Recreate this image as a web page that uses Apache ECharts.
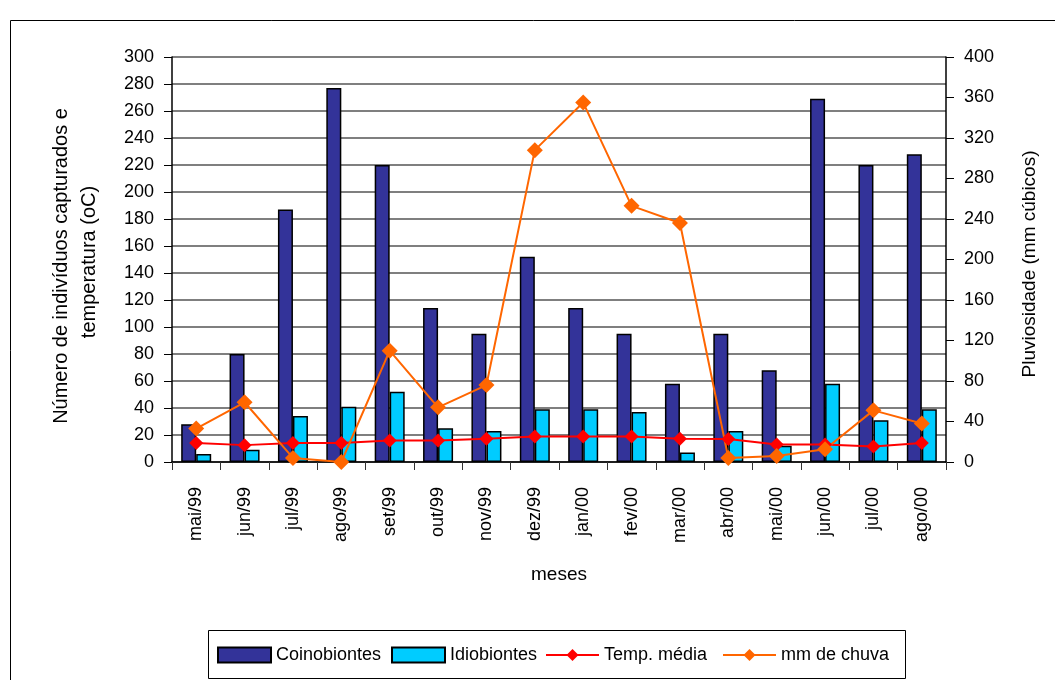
<!DOCTYPE html>
<html>
<head>
<meta charset="utf-8">
<script src="https://cdn.jsdelivr.net/npm/echarts@6/dist/echarts.min.js"></script>
<style>html,body{margin:0;padding:0;background:#fff}#c{width:1055px;height:680px}</style>
</head>
<body>
<div id="c"></div>
<script>
const months = ['mai/99','jun/99','jul/99','ago/99','set/99','out/99','nov/99','dez/99','jan/00','fev/00','mar/00','abr/00','mai/00','jun/00','jul/00','ago/00'];
const coinobiontes = [28, 80, 187, 277, 220, 114, 95, 152, 114, 95, 58, 95, 68, 269, 220, 228];
const idiobiontes = [6, 9, 34, 41, 52, 25, 23, 39, 39, 37, 7, 23, 12, 58, 31, 39];
const tempMedia = [14, 12.5, 14, 14, 16, 16, 17.3, 18.8, 18.8, 18.8, 17.3, 17, 13, 13, 11.5, 14];
const chuva = [33, 59, 4, 0, 110, 54, 76, 308, 355, 253, 236, 4, 6, 12.5, 51, 38];
const leftTicks = {min: 0, max: 300, interval: 20};
const rightTicks = {min: 0, max: 400, interval: 40};

const FONT = '"Liberation Sans", Arial, sans-serif';
const chart = echarts.init(document.getElementById('c'));
const legendBase = {
  top: 646, itemWidth: 53, itemHeight: 15, itemGap: 0, padding: 0,
  textStyle: {fontFamily: FONT, fontSize: 18, color: '#000'}
};
chart.setOption({
  animation: false,
  textStyle: {fontFamily: FONT},
  grid: {left: 172, right: 109, top: 57, bottom: 218},
  graphic: [
    {type: 'rect', shape: {x: 10.5, y: 20.5, width: 1060, height: 700}, style: {fill: 'none', stroke: '#000', lineWidth: 1}, silent: true},
    {type: 'rect', shape: {x: 208.5, y: 630.5, width: 697, height: 48}, style: {fill: '#fff', stroke: '#000', lineWidth: 1}, silent: true, z: -1},
    {type: 'text', x: 61, y: 266, rotation: Math.PI / 2, style: {text: 'Número de indivíduos capturados e', font: '20px ' + FONT, fill: '#000', align: 'center', verticalAlign: 'middle'}},
    {type: 'text', x: 89, y: 262, rotation: Math.PI / 2, style: {text: 'temperatura (oC)', font: '20px ' + FONT, fill: '#000', align: 'center', verticalAlign: 'middle'}},
    {type: 'text', x: 1030, y: 264, rotation: Math.PI / 2, style: {text: 'Pluviosidade (mm cúbicos)', font: '19px ' + FONT, fill: '#000', align: 'center', verticalAlign: 'middle'}},
    {type: 'text', x: 559, y: 575, style: {text: 'meses', font: '19px ' + FONT, fill: '#000', align: 'center', verticalAlign: 'middle'}}
  ],
  legend: [
    Object.assign({left: 217, data: [{name: 'Coinobiontes', icon: 'rect'}]}, legendBase),
    Object.assign({left: 391, data: [{name: 'Idiobiontes', icon: 'rect'}]}, legendBase),
    Object.assign({left: 545, data: ['Temp. média']}, legendBase),
    Object.assign({left: 722, data: ['mm de chuva']}, legendBase)
  ],
  xAxis: {
    type: 'category', data: months, boundaryGap: true,
    axisLine: {show: true, lineStyle: {color: '#000', width: 1.5}},
    axisTick: {show: true, length: 8, lineStyle: {color: '#333'}},
    axisLabel: {rotate: 90, margin: 25, color: '#000', fontSize: 18, fontFamily: FONT}
  },
  yAxis: [
    {
      type: 'value', min: leftTicks.min, max: leftTicks.max, interval: leftTicks.interval,
      axisLine: {show: true, lineStyle: {color: '#000', width: 1.5}},
      axisTick: {show: true, length: 8, lineStyle: {color: '#000'}},
      axisLabel: {margin: 18, color: '#000', fontSize: 18, fontFamily: FONT},
      splitLine: {show: true, lineStyle: {color: '#555', width: 1.5}}
    },
    {
      type: 'value', min: rightTicks.min, max: rightTicks.max, interval: rightTicks.interval,
      position: 'right',
      axisLine: {show: true, lineStyle: {color: '#000', width: 1.5}},
      axisTick: {show: true, length: 8, lineStyle: {color: '#000'}},
      axisLabel: {margin: 18, color: '#000', fontSize: 18, fontFamily: FONT},
      splitLine: {show: false}
    }
  ],
  series: [
    {name: 'Coinobiontes', type: 'bar', data: coinobiontes, barWidth: 15, barGap: '0%',
     itemStyle: {color: '#333399', borderColor: '#000', borderWidth: 1.5}},
    {name: 'Idiobiontes', type: 'bar', data: idiobiontes, barWidth: 15, barGap: '0%',
     itemStyle: {color: '#00CCFF', borderColor: '#000', borderWidth: 1.5}},
    {name: 'Temp. média', type: 'line', yAxisIndex: 0, data: tempMedia, symbol: 'diamond', symbolSize: 14,
     lineStyle: {color: '#FF0000', width: 2}, itemStyle: {color: '#FF0000'}},
    {name: 'mm de chuva', type: 'line', yAxisIndex: 1, data: chuva, symbol: 'diamond', symbolSize: 16,
     lineStyle: {color: '#FF6600', width: 2}, itemStyle: {color: '#FF6600'}}
  ]
});
</script>
</body>
</html>
